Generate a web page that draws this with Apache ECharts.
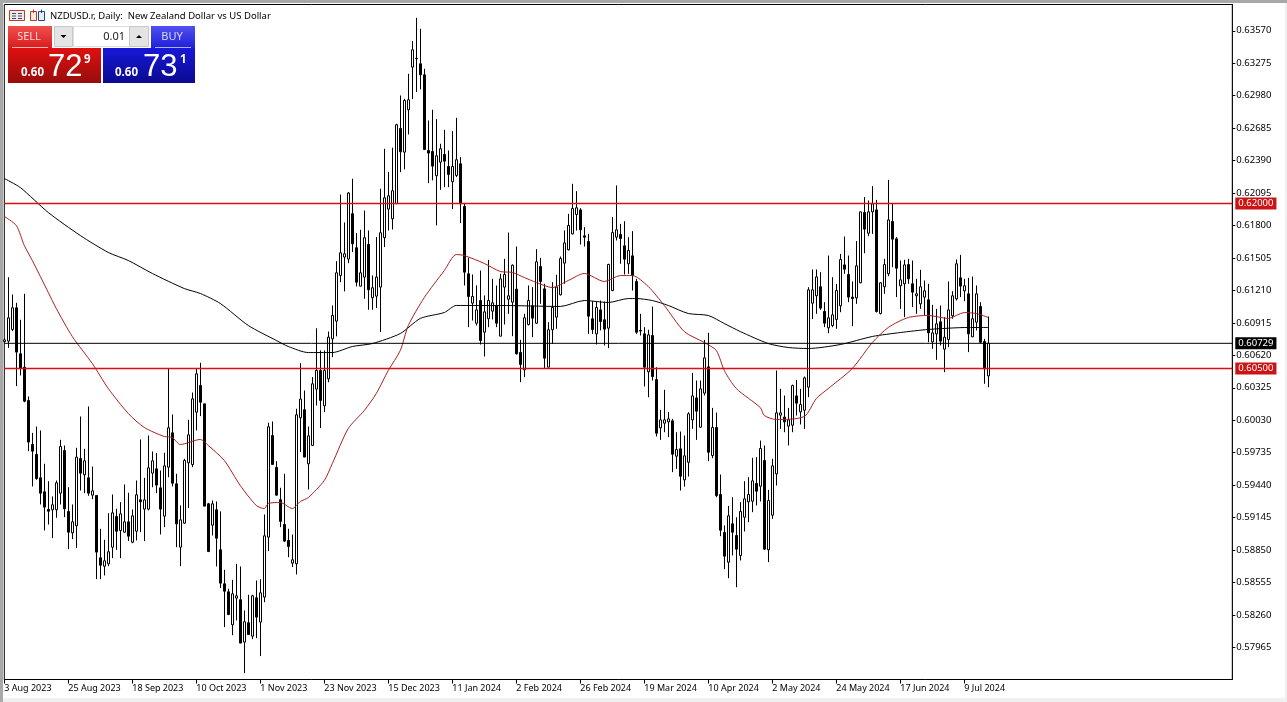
<!DOCTYPE html>
<html><head><meta charset="utf-8">
<style>html,body{margin:0;padding:0;background:#f0f0f0;overflow:hidden}#c{width:1287px;height:702px}</style>
<script src="https://cdn.jsdelivr.net/npm/echarts@6/dist/echarts.min.js"></script>
</head><body><div id="c"></div>
<script>
// Prices in points (price x 100000)
const opens=[60745,60749,60855,61052,60634,60512,60209,59809,59719,59506,
59379,59219,59216,59216,59367,59755,59200,59006,59070,59682,
59534,59506,59349,59346,58779,58703,58725,58876,59155,59027,
59012,59106,58921,59021,59306,59222,59222,59549,59588,59415,
59158,59603,59915,59452,58876,59094,59643,59627,60103,60346,
60179,59270,59076,59216,58852,58543,58470,58170,58413,58398,
58013,58189,58067,58416,58195,58422,58967,59891,59601,59307,
59082,58937,58731,58725,60052,60125,59634,59801,60313,60482,
60161,60406,60770,60931,61346,61513,61495,61907,61598,61249,
61331,61628,61143,61158,61240,61689,61949,61861,61998,62682,
62467,62852,63240,63316,63270,63170,62482,62473,62252,62376,
62446,62337,62198,62255,62361,61973,61361,61094,60912,61118,
60830,60952,61021,61073,60794,61240,61130,61103,61221,60646,
60488,60900,61070,60912,61427,61224,60512,60852,60967,61170,
61458,61579,61724,61900,61942,61706,61655,60952,60815,61033,
60943,60867,61209,61694,61718,61615,61452,61524,61291,60845,
60815,60470,60800,60400,59961,60003,60015,60024,59703,59770,
59488,59648,60033,60233,59967,60276,60515,59709,59964,59355,
59009,58739,59088,58982,58800,59148,59288,59294,59455,59430,
59664,58852,59167,59542,60076,60058,59976,59985,60251,60106,
60121,60330,61094,61161,61243,61018,60870,60891,60946,61070,
61442,61355,61149,61142,61279,61918,61730,61924,61942,61000,
61243,61361,61836,61679,61252,61270,61445,61270,61161,61088,
61149,61124,60742,60815,60924,60676,60764,60979,61133,61324,
61206,61179,60788,60921,61064,60745,60433];
const closes=[60760,60961,61052,60649,60503,60203,59831,59749,59500,59367,
59240,59203,59261,59461,59791,59225,59012,59106,59694,59549,
59661,59367,59388,58831,58712,58752,58834,59188,59021,59179,
59106,58976,59161,59352,59288,59306,59597,59661,59440,59222,
59615,59961,59458,59088,59124,59664,59897,60224,60452,60194,
59249,58837,59270,58958,58549,58476,58264,58452,58434,58004,
58198,58082,58434,58240,58461,58979,59970,59628,59349,59110,
58931,58882,58761,60079,60222,59695,59888,60361,60482,60210,
60482,60785,60983,61370,61552,61543,62095,61634,61285,61370,
61689,61216,61234,61331,61734,62052,62070,62116,62716,62470,
62937,62943,63397,63320,63170,62491,62458,62340,62434,62498,
62385,62264,62337,62398,61998,61376,61155,61155,61033,60755,
61015,61118,61097,60912,61315,61355,61161,61439,60634,60537,
60961,61118,60958,61470,61291,60594,60852,61055,61240,61500,
61642,61800,61955,61961,61761,61694,60976,60855,61055,60927,
60858,61446,61736,61761,61682,61494,61573,61346,60830,60840,
60512,60806,60427,59912,60033,60033,60042,59721,59764,59521,
59706,60088,60251,60112,60315,60597,59739,59964,59345,59030,
58794,59161,59012,58858,59200,59315,59355,59479,59385,59773,
58858,59300,59615,60097,60097,60015,60033,60345,60185,60173,
60415,61215,61215,61333,61049,60912,60961,60988,61209,61491,
61403,61149,61136,61433,61924,61767,61924,61997,61018,61279,
61445,61851,61676,61412,61306,61442,61315,61194,61179,61243,
61206,60824,60824,60906,60749,60785,61033,61161,61452,61249,
61252,60815,60952,61179,60739,60497,60729];
const lows=[60735,60688,60840,60340,60437,60194,59749,59428,59488,59264,
59028,59082,58958,59143,59264,59149,58858,58949,58870,59391,
59367,59343,59312,58585,58585,58619,58703,58776,58852,58776,
59009,58931,58912,58937,59012,58931,59210,59421,59367,58991,
59058,59512,59428,58876,58703,59088,59231,59603,59937,60067,
59249,58831,58982,58701,58504,58149,58258,58076,58210,58004,
57731,58082,58040,58049,57886,58376,58840,59628,59346,59058,
58922,58785,58695,58628,59740,59695,59401,59795,60164,59958,
60103,60375,60603,60792,61285,61201,61458,61558,61246,61246,
61134,61034,61034,61049,60831,61604,61755,61764,61998,62285,
62310,62628,62949,63013,63037,62488,62185,62210,61801,62125,
62149,62149,61949,62240,61822,61255,60876,60936,60891,60718,
60609,60876,60946,60876,60794,60900,60997,60794,60627,60376,
60421,60891,60785,60906,61088,60503,60512,60724,60861,61164,
61270,61573,61718,61755,61627,61609,60815,60815,60718,60846,
60709,60685,61203,61664,61452,61355,61361,61209,60815,60800,
60337,60239,60391,59882,59851,59921,59876,59558,59588,59391,
59427,59518,59952,59851,59961,60254,59658,59685,59330,58976,
58676,58594,58800,58512,58755,59018,59103,59194,59255,59291,
58852,58740,59133,59436,59951,59921,59800,59921,60073,59991,
59951,60240,60949,60997,61033,60876,60821,60876,60861,61012,
61361,61103,60885,61088,61276,61548,61703,61724,61009,60991,
61179,61339,61421,61149,61042,60967,61270,61058,60997,61042,
60982,60739,60679,60579,60709,60467,60694,60952,61118,61149,
61112,60649,60785,60846,60730,60361,60330];
const highs=[60775,61330,61173,61097,60943,61179,60246,59915,59973,59937,
59634,59476,59337,59482,59852,59800,59421,59264,59779,60064,
59770,60155,59609,59346,59043,58943,59185,59355,59225,59285,
59446,59370,59218,59482,59855,59506,59891,59746,59731,59573,
59734,60497,60082,59543,59255,59679,60034,60282,60497,60552,
60179,59279,59301,59291,59201,58670,58498,58579,58725,58701,
58301,58443,58443,58573,58585,59173,60007,60019,59658,59416,
59543,59043,58991,60134,60549,60300,59973,60422,60866,60664,
60664,60836,61073,61476,62082,61828,62104,62225,61731,61761,
61937,61755,61346,61695,62134,62497,62288,62507,62725,62982,
62952,63179,63476,63688,63588,63225,62755,62852,62767,62543,
62670,62482,62658,62779,62422,61998,61506,61355,61255,61391,
61164,61488,61315,61255,61361,61497,61736,61446,61609,60761,
60997,61255,61240,61585,61506,61270,60921,61285,61352,61518,
61755,61906,62179,62112,61958,61785,61724,61112,61109,61118,
61109,61452,61876,62164,61815,61839,61694,61749,61315,60997,
60876,60852,61063,60512,60124,60306,60103,60042,59921,59927,
59891,60103,60460,60391,60391,60760,60824,60142,60100,59536,
59073,59251,59330,59148,59285,59476,59512,59688,59694,59845,
59800,59397,59679,60482,60315,60254,60142,60354,60397,60315,
60427,61239,61400,61400,61376,61103,61527,61330,61270,61542,
61700,61527,61291,61658,61927,62058,62027,62158,62033,61285,
61497,62215,61997,61694,61482,61488,61497,61482,61315,61397,
61300,61270,61079,61042,61073,60967,61291,61203,61491,61533,
61315,61324,61336,61255,61103,60770,60973];

// Moving averages: bar number and value in points
const redMaBars=[0,3,5,7,11,13,17,22,26,31,35,40,42,44,49,51,55,59,63,65,66,69,72,74,76,80,82,86,90,93,96,99,101,105,110,113,115,120,124,127,130,133,137,141,145,150,154,157,161,165,170,175,178,180,183,189,190,193,200,203,206,212,217,221,226,231,236,240,243,246];
const redMaVals=[61882,61800,61618,61482,61191,61045,60791,60545,60318,60091,59964,59882,59873,59809,59855,59800,59664,59436,59255,59227,59273,59282,59227,59291,59327,59482,59636,59955,60118,60273,60482,60664,60891,61145,61391,61536,61527,61455,61382,61373,61327,61282,61236,61300,61364,61291,61345,61345,61245,61073,60836,60736,60664,60482,60318,60145,60073,60036,60064,60227,60318,60500,60736,60873,60964,60982,60955,61009,61000,60964];
const blackMaBars=[0,4,11,19,26,31,37,45,49,54,61,68,71,76,82,87,92,99,104,110,113,124,139,145,151,156,158,162,166,171,176,180,184,191,196,201,209,217,224,231,241,246];
const blackMaVals=[62227,62145,61918,61709,61555,61482,61364,61227,61182,61091,60891,60755,60700,60645,60645,60700,60727,60818,60955,61009,61073,61073,61064,61118,61100,61136,61136,61118,61073,61000,60982,60909,60836,60727,60691,60682,60718,60791,60827,60855,60873,60873];

const tickDates=['3 Aug 2023','25 Aug 2023','18 Sep 2023','10 Oct 2023','1 Nov 2023','23 Nov 2023','15 Dec 2023','11 Jan 2024','2 Feb 2024','26 Feb 2024','19 Mar 2024','10 Apr 2024','2 May 2024','24 May 2024','17 Jun 2024','9 Jul 2024'];
const priceTicks=[0.63570,0.63275,0.62980,0.62685,0.62390,0.62095,0.61800,0.61505,0.61210,0.60915,0.60620,0.60325,0.60030,0.59735,0.59440,0.59145,0.58850,0.58555,0.58260,0.57965];
const levels=[0.62000,0.60500];
const lastPrice=0.60729;
const barsPerTick=16, slots=308;

const FONT='"Noto Sans"';
const p=v=>v/100000;
const cats=Array.from({length:slots},(_,i)=>String(i));
const ohlc=opens.map((o,i)=>[p(o),p(closes[i]),p(lows[i]),p(highs[i])]);
const sparse=(bars,vals)=>bars.map((b,i)=>[b,p(vals[i])]);
const showTick=i=>i%barsPerTick===0 && i/barsPerTick<tickDates.length;

const rect=(x,y,w,h,fill,extra)=>Object.assign({type:'rect',shape:{x,y,width:w,height:h},style:{fill},silent:true,z:20},extra||{});
const txt=(x,y,t,size,fill,extra)=>({type:'text',x,y,silent:true,z:21,style:Object.assign({text:t,fill,font:size+'px '+FONT,textVerticalAlign:'middle'},extra||{})});
const vg=(a,b)=>({type:'linear',x:0,y:0,x2:0,y2:1,colorStops:[{offset:0,color:a},{offset:1,color:b}]});

function box(x,y,w,h,fill,stroke){const r=rect(x,y,w,h,fill);if(stroke){r.style.stroke=stroke;r.style.lineWidth=1;}return r;}
function tri(cx,cy,up){return {type:'polygon',silent:true,z:21,shape:{points:up?[[cx-3,cy+2],[cx+3,cy+2],[cx,cy-1]]:[[cx-3,cy-1],[cx+3,cy-1],[cx,cy+2]]},style:{fill:'#000'}};}
function line(x1,y1,x2,y2,c){return {type:'line',silent:true,z:21,shape:{x1,y1,x2,y2},style:{stroke:c,lineWidth:1}};}

const BIG='31px "Liberation Sans"';
const graphics=[
 // window frame
 rect(0,0,1287,3,'#a8a8a8',{z:-1}),
 rect(0,0,3,702,'#a8a8a8',{z:-1}),
 rect(3,3,1282,695,'#ffffff',{z:-1}),
 // header icons
 box(9.5,10.5,15,10,'#f6e8e0','#c0392b'), line(12,13.5,16,13.5,'#1d4e89'),line(12,16,16,16,'#1d4e89'),line(12,18.5,16,18.5,'#1d4e89'),
 line(18,13.5,22,13.5,'#1d4e89'),line(18,16,22,16,'#1d4e89'),line(18,18.5,22,18.5,'#1d4e89'),
 box(30.5,11.5,6,9,'#fbe9e2','#c0392b'), box(38.5,11.5,6,9,'#e4eef8','#1d4e89'), line(33.5,9.5,33.5,13,'#c0392b'), line(41.5,9.5,41.5,13,'#1d4e89'),
 txt(50,16.5,'NZDUSD.r, Daily:  New Zealand Dollar vs US Dollar',9.5,'#000'),
 // sell / buy
 rect(8,26,44,22,vg('#f05050','#d81c1c')),
 txt(29,37,'SELL',11,'#ffd8d8',{textAlign:'center'}),
 line(12,47.5,48,47.5,'#ffb0b0'),
 rect(8,48,93,35,vg('#e01010','#980c0c')),
 txt(21,73,'0.60',11.5,'#fff',{font:'bold 11.5px '+FONT}),
 txt(48,67,'72',31,'#fff',{font:BIG}),
 txt(84,60,'9',11.5,'#fff',{font:'bold 11.5px '+FONT}),
 rect(151,26,44,22,vg('#5050f0','#2020d8')),
 txt(172,37,'BUY',11,'#d8d8ff',{textAlign:'center'}),
 line(155,47.5,191,47.5,'#b0b0ff'),
 rect(103,48,92,35,vg('#1818d8','#0a0a90')),
 txt(115,73,'0.60',11.5,'#fff',{font:'bold 11.5px '+FONT}),
 txt(143,67,'73',31,'#fff',{font:BIG}),
 txt(180,60,'1',11.5,'#fff',{font:'bold 11.5px '+FONT}),
 // lot control
 box(54.5,26.5,18,20,'#e4e4e4','#c8c8c8'), tri(63.5,36,false),
 box(73.5,26.5,56,20,'#ffffff','#e0e0e0'),
 txt(125,36.5,'0.01',11,'#222',{textAlign:'right'}),
 box(129.5,26.5,19,20,'#e4e4e4','#c8c8c8'), tri(139,36,true)
];

const chart=echarts.init(document.getElementById('c'),null,{width:1287,height:702,renderer:'canvas'});
const levelSeries=(v,color,bg,w)=>({type:'line',name:'level '+v,data:[[0,v],[slots-1,v]],showSymbol:false,symbol:'none',silent:true,z:10,clip:false,
  lineStyle:{color,width:w},itemStyle:{color},
  endLabel:{show:true,distance:3,formatter:()=>v.toFixed(5),color:'#fff',backgroundColor:bg,padding:[2,3,0,3],fontFamily:FONT,fontSize:9.5}});
chart.setOption({
 animation:false,
 backgroundColor:'#f0f0f0',
 graphic:graphics,
 grid:{left:4.3,top:4.5,width:1228,height:675,show:true,borderColor:'#000',borderWidth:1,backgroundColor:'#fff',z:1},
 xAxis:{type:'category',data:cats,boundaryGap:false,
   axisLine:{show:true,lineStyle:{color:'#000',width:1}},
   axisTick:{show:true,length:4,interval:i=>showTick(i),lineStyle:{color:'#000'}},
   axisLabel:{show:true,interval:i=>showTick(i),formatter:v=>tickDates[Number(v)/barsPerTick]||'',align:'left',margin:4,color:'#000',fontFamily:FONT,fontSize:9,hideOverlap:false},
   splitLine:{show:false}},
 yAxis:{type:'value',position:'right',min:0.57673,max:0.63809,scale:true,
   axisLine:{show:true,onZero:false,lineStyle:{color:'#000',width:1}},
   axisTick:{show:true,length:3,customValues:priceTicks,lineStyle:{color:'#000'}},
   axisLabel:{show:true,customValues:priceTicks,formatter:v=>v.toFixed(5),margin:4,padding:[2,0,0,0],color:'#000',fontFamily:FONT,fontSize:9.5},
   splitLine:{show:false}},
 series:[
  {type:'candlestick',name:'NZDUSD',data:ohlc,barWidth:3,z:2,silent:true,
   itemStyle:{color:'#fff',color0:'#000',borderColor:'#000',borderColor0:'#000',borderWidth:1}},
  {type:'line',name:'MA200',data:sparse(blackMaBars,blackMaVals),showSymbol:false,symbol:'none',smooth:0.25,lineStyle:{color:'#000',width:1},itemStyle:{color:'#000'},z:3,silent:true},
  {type:'line',name:'MA50',data:sparse(redMaBars,redMaVals),showSymbol:false,symbol:'none',smooth:0.25,lineStyle:{color:'#a82020',width:1},itemStyle:{color:'#a82020'},z:3,silent:true},
  levelSeries(lastPrice,'#000','#000',1),
  levelSeries(levels[0],'#d81010','#cc1414',1.4),
  levelSeries(levels[1],'#d81010','#cc1414',1.4)
 ]
});
</script></body></html>
